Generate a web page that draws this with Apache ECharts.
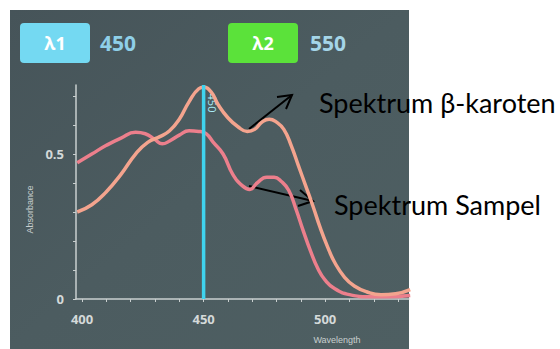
<!DOCTYPE html>
<html><head><meta charset="utf-8">
<script src="https://cdn.jsdelivr.net/npm/echarts@6/dist/echarts.min.js"></script>
<style>html,body{margin:0;padding:0;background:#fff}#c{width:560px;height:349px}</style>
</head><body><div id="c"></div>
<script>
// ---- data ----
const lambda1 = 450;
const lambda2 = 550;
const xLabelValues = [400, 450, 500];
const xTickValues = [400, 410, 420, 430, 440, 450, 460, 470, 480, 490, 500, 510, 520, 530];
const yLabelValues = [0, 0.5];
const yTickValues = [0, 0.1, 0.2, 0.3, 0.4, 0.5, 0.6, 0.7];
const betaWavelength = [398,404,410,416,422,427,432,436,440,444,448,450,453,456,460,464,468,471,474,477,480,483,486,489,492,495,498,501,504,508,512,517,523,529,535];
const betaAbs = [0.30,0.325,0.37,0.43,0.50,0.54,0.56,0.58,0.62,0.68,0.725,0.73,0.715,0.67,0.625,0.595,0.578,0.585,0.61,0.62,0.61,0.585,0.53,0.46,0.39,0.32,0.245,0.18,0.125,0.075,0.045,0.025,0.015,0.018,0.032];
const sampleWavelength = [398,404,410,416,422,426,430,433,436,440,444,448,451,454,458,462,466,469,472,476,479,482,485,488,491,494,497,500,504,510,518,526,535];
const sampleAbs = [0.47,0.50,0.53,0.555,0.575,0.57,0.55,0.535,0.545,0.565,0.58,0.578,0.57,0.54,0.50,0.43,0.39,0.378,0.40,0.42,0.42,0.405,0.375,0.31,0.235,0.165,0.105,0.065,0.035,0.015,0.008,0.008,0.012];

const chart = echarts.init(document.getElementById('c'), null, {renderer: 'svg'});
const axisGray = '#c9cfcf';
const zip = (a, b) => a.map((v, i) => [v, b[i]]);

chart.setOption({
  animation: false,
  grid: {left: 76, right: 151, top: 85, bottom: 50},
  xAxis: {
    type: 'value', min: 397.5, max: 534.5,
    name: 'Wavelength', nameLocation: 'end', nameGap: 0,
    nameTextStyle: {color: '#c8cfcf', fontSize: 9, align: 'center', verticalAlign: 'top', padding: [36, 0, 0, -144]},
    axisLine: {lineStyle: {color: axisGray, width: 1.5}},
    axisTick: {show: true, customValues: xTickValues, length: 3, lineStyle: {color: axisGray}},
    axisLabel: {customValues: xLabelValues, color: '#d4d9d9', fontSize: 13, fontWeight: 'bold', fontFamily: 'Open Sans', margin: 13},
    splitLine: {show: false}
  },
  yAxis: {
    type: 'value', min: 0, max: 0.738,
    name: 'Absorbance', nameLocation: 'middle', nameGap: 40, nameRotate: 90,
    nameTextStyle: {color: '#c8cfcf', fontSize: 9, padding: [0, 0, 0, -35]},
    axisLine: {show: true, lineStyle: {color: axisGray, width: 1.5}},
    axisTick: {show: true, customValues: yTickValues, length: 3, lineStyle: {color: axisGray}},
    axisLabel: {customValues: yLabelValues, color: '#d4d9d9', fontSize: 13, fontWeight: 'bold', fontFamily: 'Open Sans', margin: 12},
    splitLine: {show: false}
  },
  series: [
    {name: 'Spektrum Sampel', type: 'line', smooth: true, symbol: 'none', clip: true,
     data: zip(sampleWavelength, sampleAbs),
     lineStyle: {color: '#ec7f8c', width: 3.5}},
    {name: 'Spektrum β-karoten', type: 'line', smooth: true, symbol: 'none', clip: true,
     data: zip(betaWavelength, betaAbs),
     lineStyle: {color: '#f4a48e', width: 3.5}},
    {name: 'λ1', type: 'line', symbol: 'none', clip: true,
     data: [[lambda1, 0], [lambda1, 0.738]],
     lineStyle: {color: '#3fd3ee', width: 3.5}}
  ],
  graphic: [
    {type: 'rect', z: -10, shape: {x: 10, y: 10, width: 399, height: 339},
     style: {fill: new echarts.graphic.LinearGradient(0, 0, 1, 1, [
       {offset: 0, color: '#465459'}, {offset: 0.5, color: '#4c5c60'}, {offset: 1, color: '#4e5f62'}])}},
    {type: 'rect', shape: {x: 20, y: 23, width: 70, height: 40, r: 4}, style: {fill: '#74d9f2'}},
    {type: 'text', x: 55, y: 43, style: {text: 'λ1', fill: '#ffffff', font: 'bold 18px "Open Sans"', align: 'center', verticalAlign: 'middle'}},
    {type: 'text', x: 100, y: 43, style: {text: String(lambda1), fill: '#8fcfe8', font: 'bold 21px "Open Sans"', align: 'left', verticalAlign: 'middle'}},
    {type: 'rect', shape: {x: 228, y: 23, width: 70, height: 40, r: 4}, style: {fill: '#5be23a'}},
    {type: 'text', x: 263, y: 43, style: {text: 'λ2', fill: '#ffffff', font: 'bold 18px "Open Sans"', align: 'center', verticalAlign: 'middle'}},
    {type: 'text', x: 310, y: 43, style: {text: String(lambda2), fill: '#a5d5e8', font: 'bold 21px "Open Sans"', align: 'left', verticalAlign: 'middle'}},
    {type: 'text', x: 212, y: 103, rotation: -Math.PI / 2, style: {text: String(lambda1), fill: '#a8ecf8', font: '11px "Open Sans"', align: 'center', verticalAlign: 'middle'}},
    {type: 'polyline', shape: {points: [[249, 129], [292, 95]]}, style: {stroke: '#000', lineWidth: 2}},
    {type: 'polyline', shape: {points: [[277, 97], [292, 95], [286, 109]]}, style: {stroke: '#000', lineWidth: 2, fill: null}},
    {type: 'polyline', shape: {points: [[249, 186], [313, 201]]}, style: {stroke: '#000', lineWidth: 2}},
    {type: 'polyline', shape: {points: [[300, 190], [313, 201], [298, 206]]}, style: {stroke: '#000', lineWidth: 2, fill: null}},
    {type: 'text', x: 319, y: 102, style: {text: 'Spektrum β-karoten', fill: '#000', font: '27px Lato', align: 'left', verticalAlign: 'middle'}},
    {type: 'text', x: 334, y: 204, style: {text: 'Spektrum Sampel', fill: '#000', font: '27px Lato', align: 'left', verticalAlign: 'middle'}}
  ]
});
</script></body></html>
